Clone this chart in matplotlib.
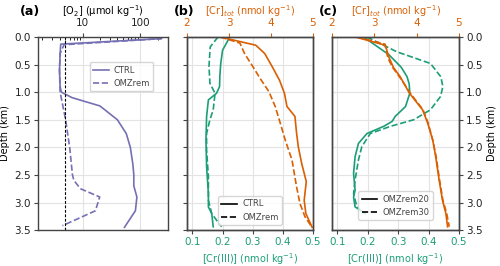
import matplotlib
matplotlib.use("Agg")
import matplotlib.pyplot as plt
from matplotlib.lines import Line2D

# colours (Dark2)
c_o2 = "#7570b3"
c_tot = "#d95f02"
c_cr3 = "#1b9e77"

# (a) oxygen profiles
o2_ctrl_z = [0.0, 0.03, 0.13, 0.3, 0.6, 0.9, 1.0, 1.1, 1.25, 1.5, 1.75, 2.0, 2.3, 2.5, 2.7, 2.9, 3.15, 3.45]
o2_ctrl = [235, 230, 4.2, 4.1, 4.0, 4.1, 4.3, 6.6, 20, 40, 57, 67, 74, 77, 77, 87, 82, 53]
o2_omz_z = [0.0, 0.03, 0.14, 0.3, 0.6, 1.0, 1.5, 2.0, 2.5, 2.6, 2.75, 2.9, 3.15, 3.42]
o2_omz = [235, 230, 4.8, 4.1, 4.0, 4.1, 5.1, 6.0, 6.7, 7.1, 9.2, 19.8, 16.7, 4.5]
o2_thresh = 5

# (b) CTRL / OMZrem
b_tot_ctrl_z = [0.0, 0.15, 0.3, 0.54, 0.78, 1.02, 1.26, 1.44, 1.75, 1.99, 2.29, 2.62, 2.96, 3.2, 3.45]
b_tot_ctrl = [2.79, 3.64, 3.85, 4.03, 4.2, 4.32, 4.38, 4.57, 4.61, 4.65, 4.73, 4.84, 4.79, 4.83, 4.98]
b_tot_omz_z = [0.0, 0.11, 0.3, 0.54, 0.75, 0.99, 1.26, 1.56, 1.87, 2.23, 2.72, 3.02, 3.26, 3.42]
b_tot_omz = [2.79, 3.26, 3.37, 3.57, 3.74, 3.95, 4.1, 4.22, 4.34, 4.5, 4.61, 4.69, 4.81, 4.95]
b_cr3_ctrl_z = [0.0, 0.02, 0.24, 0.48, 0.7, 0.9, 1.02, 1.14, 1.44, 1.87, 2.35, 2.84, 3.08, 3.2, 3.44]
b_cr3_ctrl = [0.218, 0.222, 0.2, 0.194, 0.191, 0.19, 0.18, 0.153, 0.147, 0.145, 0.147, 0.153, 0.153, 0.164, 0.169]
b_cr3_omz_z = [0.0, 0.02, 0.18, 0.53, 0.84, 1.02, 1.32, 1.5, 1.75, 2.05, 2.53, 2.96, 3.2, 3.32, 3.44]
b_cr3_omz = [0.185, 0.182, 0.159, 0.155, 0.158, 0.175, 0.169, 0.158, 0.147, 0.147, 0.153, 0.153, 0.164, 0.18, 0.197]

# (c) OMZrem20 / OMZrem30
c_tot_20_z = [0.0, 0.15, 0.36, 0.55, 0.72, 1.02, 1.32, 1.56, 1.87, 2.17, 2.59, 2.96, 3.2, 3.44]
c_tot_20 = [2.55, 3.26, 3.34, 3.45, 3.61, 3.83, 4.14, 4.26, 4.38, 4.45, 4.53, 4.61, 4.69, 4.73]
c_tot_30_z = [0.0, 0.13, 0.38, 0.55, 0.75, 1.02, 1.32, 1.56, 1.87, 2.17, 2.59, 2.96, 3.2, 3.44]
c_tot_30 = [2.6, 3.25, 3.32, 3.43, 3.62, 3.85, 4.15, 4.27, 4.38, 4.46, 4.54, 4.62, 4.71, 4.77]
c_cr3_20_z = [0.0, 0.32, 0.55, 0.72, 0.85, 1.02, 1.26, 1.44, 1.53, 1.62, 1.75, 1.93, 2.17, 2.47, 2.78, 2.9, 3.08, 3.14, 3.2]
c_cr3_20 = [0.186, 0.269, 0.31, 0.329, 0.336, 0.338, 0.324, 0.29, 0.28, 0.252, 0.197, 0.169, 0.158, 0.153, 0.158, 0.153, 0.158, 0.175, 0.191]
c_cr3_30_z = [0.0, 0.27, 0.48, 0.72, 0.9, 1.08, 1.32, 1.5, 1.62, 1.75, 1.99, 2.23, 2.59, 2.84, 3.08, 3.2]
c_cr3_30 = [0.197, 0.296, 0.406, 0.44, 0.447, 0.439, 0.406, 0.351, 0.274, 0.208, 0.18, 0.169, 0.158, 0.153, 0.164, 0.186]

depth_ticks = [0.0, 0.5, 1.0, 1.5, 2.0, 2.5, 3.0, 3.5]

plt.rcParams["font.size"] = 7
plt.rcParams["font.family"] = "DejaVu Sans"
spine_col = "#444444"
grid_col = "#e3e3e3"

fig = plt.figure(figsize=(5, 2.66), dpi=100)


def style(ax):
    for s in ax.spines.values():
        s.set_color(spine_col)
        s.set_linewidth(1.0)
    ax.tick_params(colors=spine_col, labelcolor="#222222", length=3, width=0.8, labelsize=7.5, pad=2)


leg_kw = dict(fontsize=6, handlelength=1.9, handletextpad=0.6, borderpad=0.4,
              labelcolor="#444444", frameon=True, edgecolor="#cccccc", fancybox=True)

# ---- panel (a)
axa = fig.add_axes([0.076, 0.135, 0.260, 0.726])
axa.plot(o2_ctrl, o2_ctrl_z, color=c_o2, lw=1.2, label="CTRL")
axa.plot(o2_omz, o2_omz_z, color=c_o2, lw=1.2, ls="--", label="OMZrem")
axa.axvline(o2_thresh, color="k", lw=0.8, ls=(0, (2.5, 1.5)))
axa.set_xscale("log")
axa.set_xlim(1.7, 300)
axa.set_ylim(3.5, 0)
axa.set_yticks(depth_ticks)
axa.set_ylabel("Depth (km)", labelpad=3)
axa.xaxis.tick_top()
axa.xaxis.set_label_position("top")
axa.set_xticks([10, 100])
axa.set_xticklabels(["10", "100"])
axa.set_xlabel(r"[O$_2$] (μmol kg$^{-1}$)", labelpad=2)
axa.grid(True, color=grid_col, lw=0.8)
axa.set_axisbelow(True)
style(axa)
axa.tick_params(axis="x", which="major", pad=3.5)
axa.tick_params(axis="x", which="minor", direction="in", length=2, width=0.6)
axa.legend(loc="upper right", bbox_to_anchor=(0.92, 0.89), **leg_kw)
fig.text(0.04, 0.957, "(a)", fontsize=9, fontweight="bold", va="center")


def cr_panel(rect, tot_sets, cr3_sets, names, label, yright, leg_anchor):
    ax = fig.add_axes(rect)
    for (z, v), ls in zip(cr3_sets, ["-", "--"]):
        ax.plot(v, z, color=c_cr3, lw=1.2, ls=ls)
    ax.set_xlim(0.082, 0.5)
    ax.set_xticks([0.1, 0.2, 0.3, 0.4, 0.5])
    ax.set_ylim(3.5, 0)
    ax.set_yticks(depth_ticks)
    ax.grid(True, color=grid_col, lw=0.8)
    ax.set_axisbelow(True)
    ax.set_xlabel(r"[Cr(III)] (nmol kg$^{-1}$)", color=c_cr3, labelpad=3)
    style(ax)
    ax.tick_params(axis="x", labelcolor=c_cr3)
    if yright:
        ax.yaxis.tick_right()
        ax.yaxis.set_label_position("right")
        ax.set_ylabel("Depth (km)", labelpad=3)
    else:
        ax.tick_params(axis="y", labelleft=False)
    axt = ax.twiny()
    for (z, v), ls in zip(tot_sets, ["-", "--"]):
        axt.plot(v, z, color=c_tot, lw=1.2, ls=ls)
    axt.set_xlim(2, 5)
    axt.set_xticks([2, 3, 4, 5])
    axt.set_xlabel(r"[Cr]$_{tot}$ (nmol kg$^{-1}$)", color=c_tot, labelpad=2)
    style(axt)
    axt.tick_params(axis="x", labelcolor=c_tot, colors=c_tot, pad=3.5)
    handles = [Line2D([], [], color="k", lw=1.2, ls="-"),
               Line2D([], [], color="k", lw=1.2, ls="--")]
    axt.legend(handles, names, loc="lower center", bbox_to_anchor=leg_anchor, **leg_kw)
    fig.text(rect[0] - 0.026, 0.957, label, fontsize=9, fontweight="bold", va="center")
    return ax


cr_panel([0.374, 0.135, 0.252, 0.726],
         [(b_tot_ctrl_z, b_tot_ctrl), (b_tot_omz_z, b_tot_omz)],
         [(b_cr3_ctrl_z, b_cr3_ctrl), (b_cr3_omz_z, b_cr3_omz)],
         ["CTRL", "OMZrem"], "(b)", False, (0.5, 0.005))
cr_panel([0.664, 0.135, 0.254, 0.726],
         [(c_tot_20_z, c_tot_20), (c_tot_30_z, c_tot_30)],
         [(c_cr3_20_z, c_cr3_20), (c_cr3_30_z, c_cr3_30)],
         ["OMZrem20", "OMZrem30"], "(c)", True, (0.5, 0.03))

fig.savefig("out.png", dpi=100)
